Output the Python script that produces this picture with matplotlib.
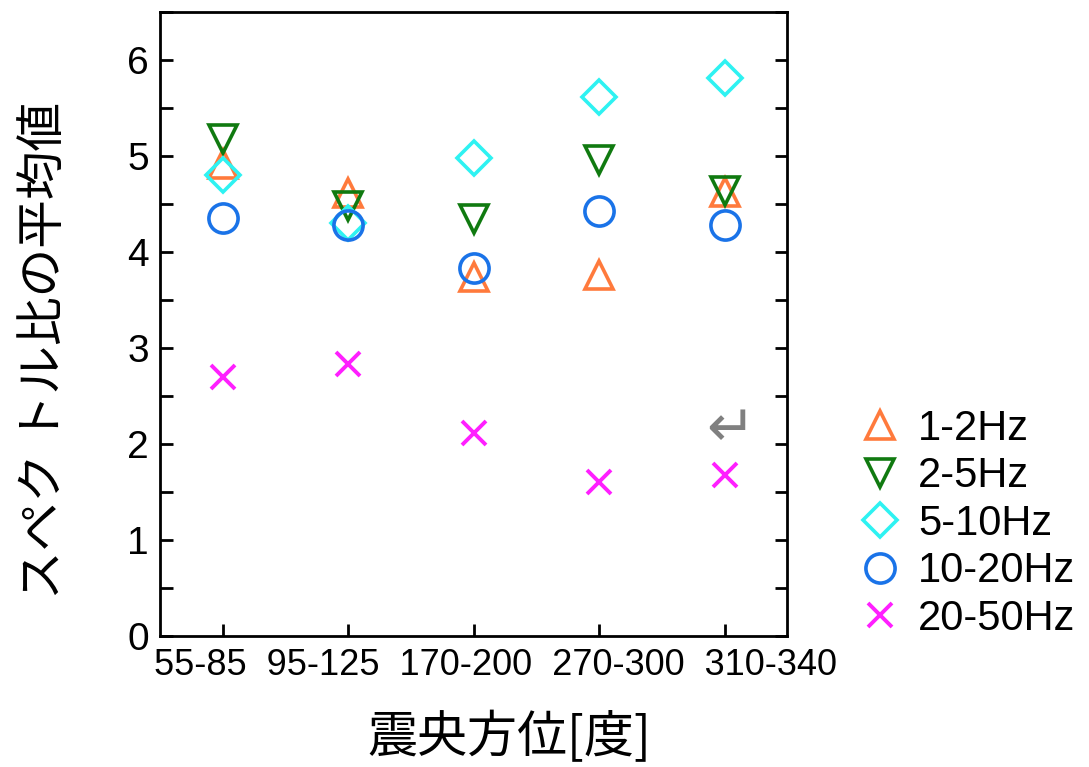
import matplotlib
matplotlib.use("Agg")
import matplotlib.pyplot as plt
from matplotlib.ticker import MultipleLocator

plt.rcParams['font.family'] = ['Liberation Sans', 'Noto Sans CJK JP', 'DejaVu Sans']

categories = ['55-85', '95-125', '170-200', '270-300', '310-340']
hz_1_2 = [4.92, 4.62, 3.74, 3.76, 4.63]
hz_2_5 = [5.18, 4.48, 4.35, 4.96, 4.64]
hz_5_10 = [4.80, 4.30, 4.98, 5.62, 5.81]
hz_10_20 = [4.36, 4.28, 3.83, 4.43, 4.28]
hz_20_50 = [2.70, 2.83, 2.11, 1.60, 1.68]

series = [
    ('1-2Hz', hz_1_2, '^', '#ff7a3c', 20),
    ('2-5Hz', hz_2_5, 'v', '#107a10', 20),
    ('5-10Hz', hz_5_10, 'D', '#2ef2f2', 17),
    ('10-20Hz', hz_10_20, 'o', '#1a73e8', 21),
    ('20-50Hz', hz_20_50, 'x', '#ff1fff', 17),
]

fig = plt.figure(figsize=(10.89, 7.67), dpi=100)
ax = fig.add_axes([0.147, 0.171, 0.576, 0.813])

x = list(range(len(categories)))
for label, vals, mk, col, ms in series:
    if mk == 'x':
        ax.plot(x, vals, ls='none', marker=mk, color=col, ms=ms, mew=2.8, label=label)
    else:
        ax.plot(x, vals, ls='none', marker=mk, mfc='none', mec=col, ms=ms, mew=2.6, label=label)

# small gray return arrow near the last column
ax.text(4.05, 2.15, '\u21b5', color='gray', fontsize=42, ha='center', va='center',
        family=['DejaVu Sans'])

ax.set_xlim(-0.5, 4.5)
ax.set_ylim(0, 6.5)
ax.set_xticks(x)
ax.set_xticklabels([])
ax.yaxis.set_major_locator(MultipleLocator(1))
ax.yaxis.set_minor_locator(MultipleLocator(0.5))
ax.tick_params(axis='both', direction='in', labelsize=28, width=2, length=9, pad=8)
ax.tick_params(axis='y', which='both', right=True)
ax.tick_params(axis='y', which='minor', direction='in', width=2, length=9)
for s in ax.spines.values():
    s.set_linewidth(2)

# category labels written as one line under the axis, as in the source figure
ax.text(0.534, -0.048, '  '.join(categories), transform=ax.transAxes,
        ha='center', va='center', fontsize=26)

fig.text(45 / 1089, 1 - 350 / 767, 'スペク トル比の平均値', rotation=90, fontsize=35,
         ha='center', va='center', family=['Noto Sans CJK JP'])
fig.text(509 / 1089, 1 - 738 / 767, '震央方位[度]', fontsize=36,
         ha='center', va='center', family=['Noto Sans CJK JP'])

ax.legend(loc='upper left', bbox_to_anchor=(0.774, 0.489), bbox_transform=fig.transFigure,
          frameon=False, fontsize=30, handletextpad=0.4, labelspacing=0.18,
          borderaxespad=0, handlelength=1.0)

fig.savefig('out.png', dpi=100)
